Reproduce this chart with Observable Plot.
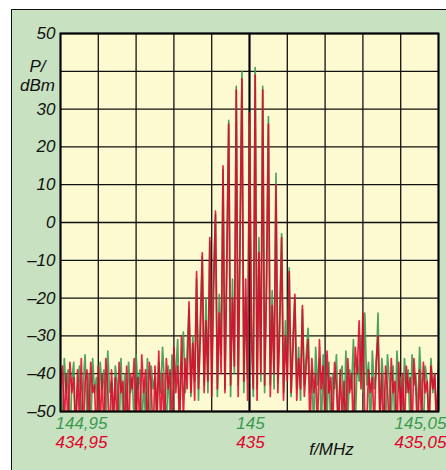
<!DOCTYPE html>
<html><head><meta charset="utf-8">
<script src="https://cdn.jsdelivr.net/npm/d3@7"></script>
<script src="https://cdn.jsdelivr.net/npm/@observablehq/plot@0.6"></script>
<style>
html,body{margin:0;padding:0;background:#fff;width:446px;height:470px;overflow:hidden}
#panel{position:absolute;left:11px;top:9px;width:440px;height:470px;background:#c8e1c0;border-left:1px solid #111;border-top:1px solid #111}
#chart{position:absolute;left:0;top:0}
</style></head><body><div id="panel"></div><div id="chart"></div>
<script>
// frequency grid: start (green scale, MHz) and step (MHz)
const startMHz = 144.95;
const stepMHz = 0.0005;
const xDomain = [144.95, 145.05];
const yDomain = [-50, 50];
const xGrid = [144.95,144.96,144.97,144.98,144.99,145,145.01,145.02,145.03,145.04,145.05];
const yGrid = [50,40,30,20,10,0,-10,-20,-30,-40,-50];
const yTicks = [50,30,20,10,0,-10,-20,-30,-40,-50];
const yTickLabels = ["50","30","20","10","0","–10","–20","–30","–40","–50"];
const xTicks = [144.95, 145, 145.05];
const greenTickLabels = ["144,95","145","145,05"];
const redTickLabels = ["434,95","435","435,05"];

// dBm values, green trace (2 m band); values below -50 run off the bottom of the screen
const greenDbm = [
-41,-56,-36,-45,-39,-58,-42,-37,-54,-44,
-38,-55,-43,-35,-52,-40,-56,-36,-45,-41,
-55,-37,-44,-39,-54,-34,-45,-42,-58,-38,
-43,-56,-36,-52,-40,-55,-37,-45,-41,-54,
-35,-44,-39,-56,-42,-52,-36,-58,-38,-44,
-41,-54,-37,-45,-33,-43,-55,-38,-52,-35,
-44,-40,-31,-52,-38,-29,-45,-34,-23,-46,
-30,-42,-15,-47,-25,-9,-43,-20,-45,-5,
-40,-14,2,-46,-19,-35,14,-44,-8,27,
-46,-15,-40,36,-43,-2,40,-45,-20,-41,
26,-25,-46,41,-44,-4,-42,36,-45,-14,
28,-43,-18,-44,13,-42,-24,-3,-45,-26,
-40,-12,-46,-30,-20,-44,-33,-47,-23,-43,
-35,-28,-45,-39,-56,-33,-43,-36,-55,-35,
-42,-52,-37,-56,-40,-44,-35,-54,-41,-38,
-55,-34,-52,-39,-44,-31,-54,-36,-42,-30,
-45,-24,-43,-37,-56,-34,-44,-40,-24,-54,
-36,-43,-55,-35,-42,-52,-38,-56,-34,-44,
-41,-54,-36,-45,-39,-55,-35,-43,-40,-52,
-33,-44,-56,-38,-42,-54,-36,-45,-40,-55,
-37];

// dBm values, red trace (70 cm band)
const redDbm = [
-44,-38,-54,-40,-55,-37,-45,-41,-58,-39,
-52,-36,-56,-42,-39,-55,-37,-45,-43,-58,
-38,-54,-40,-56,-36,-44,-58,-39,-52,-41,
-55,-37,-45,-42,-56,-38,-58,-40,-44,-36,
-54,-41,-55,-35,-45,-39,-56,-37,-43,-58,
-38,-52,-34,-54,-40,-55,-36,-44,-39,-56,
-33,-45,-38,-54,-30,-52,-36,-44,-21,-45,
-32,-47,-13,-44,-30,-8,-45,-26,-42,-4,
-46,-18,3,-44,-24,-40,15,-45,-12,26,
-43,-20,-38,35,-46,-5,38,-42,-15,-47,
29,-30,-44,39,-47,-8,-40,35,-43,-18,
26,-46,-22,-40,10,-45,-28,-4,-47,-30,
-42,-13,-45,-34,-19,-47,-36,-44,-22,-46,
-38,-31,-56,-36,-45,-40,-55,-31,-44,-38,
-54,-34,-45,-41,-55,-37,-43,-56,-39,-52,
-42,-55,-36,-45,-40,-56,-33,-40,-26,-44,
-24,-52,-54,-39,-45,-41,-55,-37,-30,-52,
-40,-56,-38,-44,-55,-36,-45,-42,-56,-37,
-52,-40,-55,-38,-45,-41,-56,-36,-44,-58,
-39,-52,-37,-45,-42,-55,-38,-44,-40,-54,
-39];

const GREEN = "#3a9a4f", RED = "#e2002c";
const greenRows = greenDbm.map((v, i) => ({f: startMHz + i * stepMHz, p: v}));
const redRows = redDbm.map((v, i) => ({f: startMHz + i * stepMHz, p: v}));

const font = {fontFamily: "Liberation Sans, Arial, sans-serif", fontStyle: "italic", fontSize: 17};

const chart = Plot.plot({
  width: 446, height: 470,
  marginLeft: 60, marginTop: 33, marginRight: 8, marginBottom: 59,
  style: {background: "transparent", overflow: "visible"},
  x: {domain: xDomain, axis: null},
  y: {domain: yDomain, axis: null},
  marks: [
    Plot.frame({fill: "#fdf9d0", stroke: null}),
    Plot.ruleX(xGrid, {stroke: "#111", strokeWidth: 1.3}),
    Plot.ruleY(yGrid, {stroke: "#111", strokeWidth: 1.3}),
    Plot.ruleX([145], {stroke: "#000", strokeWidth: 2}),
    Plot.line(greenRows, {x: "f", y: "p", stroke: GREEN, strokeWidth: 1.7, strokeOpacity: 0.9, clip: true}),
    Plot.line(redRows, {x: "f", y: "p", stroke: RED, strokeWidth: 1.7, strokeOpacity: 0.85, clip: true}),
    Plot.frame({stroke: "#000", strokeWidth: 2}),
    Plot.text(yTicks, {y: d => d, text: (d, i) => yTickLabels[i], frameAnchor: "left", textAnchor: "end", dx: -5, fill: "#111", ...font}),
    Plot.text(["P/"], {frameAnchor: "top-left", textAnchor: "middle", dx: -23, dy: 26, fill: "#111", ...font}),
    Plot.text(["dBm"], {frameAnchor: "top-left", textAnchor: "middle", dx: -23, dy: 45.5, fill: "#111", ...font}),
    Plot.text([0], {x: i => xTicks[i], text: i => greenTickLabels[i], frameAnchor: "bottom", textAnchor: "start", dx: -5, dy: 17.5, fill: GREEN, ...font}),
    Plot.text([1], {x: i => xTicks[i], text: i => greenTickLabels[i], frameAnchor: "bottom", textAnchor: "middle", dx: 1, dy: 17.5, fill: GREEN, ...font}),
    Plot.text([2], {x: i => xTicks[i], text: i => greenTickLabels[i], frameAnchor: "bottom", textAnchor: "end", dx: 8, dy: 17.5, fill: GREEN, ...font}),
    Plot.text([0], {x: i => xTicks[i], text: i => redTickLabels[i], frameAnchor: "bottom", textAnchor: "start", dx: -5, dy: 36.5, fill: RED, ...font}),
    Plot.text([1], {x: i => xTicks[i], text: i => redTickLabels[i], frameAnchor: "bottom", textAnchor: "middle", dx: 1, dy: 36.5, fill: RED, ...font}),
    Plot.text([2], {x: i => xTicks[i], text: i => redTickLabels[i], frameAnchor: "bottom", textAnchor: "end", dx: 8, dy: 36.5, fill: RED, ...font}),
    Plot.text(["f/MHz"], {frameAnchor: "bottom", textAnchor: "middle", dx: 82, dy: 43, fill: "#111", ...font})
  ]
});
document.getElementById("chart").appendChild(chart);
</script>
</body></html>
